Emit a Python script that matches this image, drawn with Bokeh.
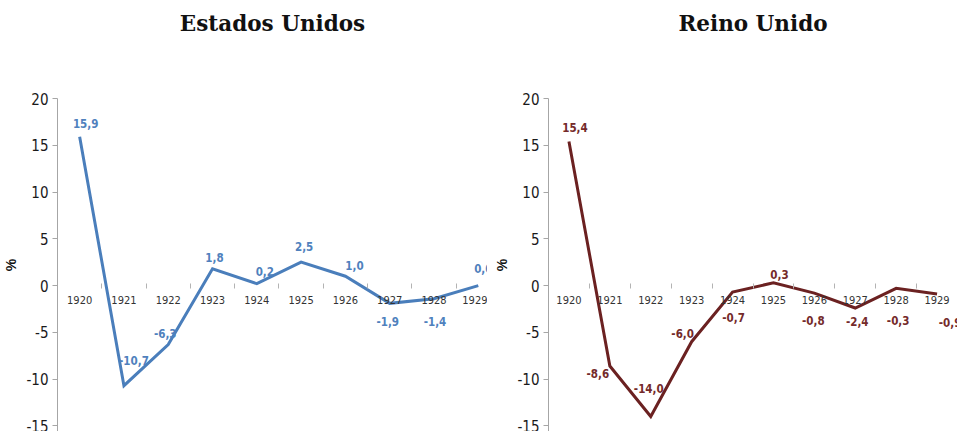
from bokeh.plotting import figure
from bokeh.layouts import row
from bokeh.models import LinearAxis, FixedTicker, ColumnDataSource, Range1d, Title
from bokeh.core.properties import value
from bokeh.embed import file_html
from bokeh.resources import INLINE

# Annual change in consumer prices, 1920-1929 (%)
years = ["1920", "1921", "1922", "1923", "1924", "1925", "1926", "1927", "1928", "1929"]
us_inflation = [15.9, -10.7, -6.3, 1.8, 0.2, 2.5, 1.0, -1.9, -1.4, 0.0]
uk_inflation = [15.4, -8.6, -14.0, -6.0, -0.7, 0.3, -0.8, -2.4, -0.3, -0.9]
y_ticks = [-15, -10, -5, 0, 5, 10, 15, 20]

# Pixel offsets of the value labels relative to their points
us_label_dx = [6, 10, -3, 2, 8, 3, 9, -2, 1, 5]
us_label_dy = [-13, -25, -11, -11, -12, -16, -11, 18, 23, -17]
uk_label_dx = [6, -12, -2, -9, 1, 6, -1, 2, 2, 13]
uk_label_dy = [-14, 7, -28, -8, 25, -8, 27, 13, 32, 29]

NARROW = "DejaVu Sans Condensed, Liberation Sans"
H = 431


def fmt(v):
    return f"{v:.1f}".replace(".", ",")


def make_panel(title, values, line_color, text_color, dx, dy,
               width, left, x_end):
    xs = list(range(len(years)))
    src = ColumnDataSource(dict(x=xs, y=values,
                                label=[fmt(v) for v in values],
                                dx=dx, dy=dy))
    p = figure(width=width, height=H,
               x_range=Range1d(-0.5, x_end), y_range=Range1d(-15.6, 20),
               x_axis_location=None, toolbar_location=None,
               output_backend="svg",
               min_border_left=left, min_border_right=0,
               min_border_top=98, min_border_bottom=0)
    p.outline_line_color = None
    p.grid.visible = False
    p.background_fill_color = "white"
    p.border_fill_color = "white"

    # empty band between the chart title and the plotting area
    p.add_layout(Title(text=" ", text_font_size="1px", standoff=54), "above")

    # chart title
    p.title.text = title
    p.title.align = "center"
    p.title.text_font = "DejaVu Serif"
    p.title.text_font_style = "bold"
    p.title.text_font_size = "21.5px"
    p.title.text_color = "#111111"
    p.title.standoff = 12

    # vertical axis
    ya = p.yaxis[0]
    ya.ticker = FixedTicker(ticks=y_ticks)
    ya.major_label_overrides = {t: str(t) for t in y_ticks}
    ya.axis_line_color = "#a6a6a6"
    ya.major_tick_line_color = "#a6a6a6"
    ya.major_tick_in = 0
    ya.major_tick_out = 5
    ya.minor_tick_line_color = None
    ya.major_label_standoff = 4
    ya.major_label_text_font = NARROW
    ya.major_label_text_font_size = "15px"
    ya.major_label_text_color = "#1a1a1a"
    ya.axis_label = "%"
    ya.axis_label_text_font = "Liberation Sans"
    ya.axis_label_text_font_style = "bold"
    ya.axis_label_text_font_size = "14px"
    ya.axis_label_text_color = "#111111"
    ya.axis_label_standoff = 4

    # category boundary ticks on the zero line
    tick_axis = LinearAxis(
        fixed_location=0,
        ticker=FixedTicker(ticks=[i + 0.5 for i in xs]),
        axis_line_color=None,
        major_tick_line_color="#b3b3b3",
        major_tick_in=2, major_tick_out=3,
        minor_tick_line_color=None,
        major_label_text_color=None,
    )
    # year labels at the category centres
    label_axis = LinearAxis(
        fixed_location=0,
        ticker=FixedTicker(ticks=xs),
        major_label_overrides={i: y for i, y in enumerate(years)},
        axis_line_color=None,
        major_tick_line_color=None,
        major_tick_in=0, major_tick_out=0,
        minor_tick_line_color=None,
        major_label_standoff=10,
        major_label_text_font=NARROW,
        major_label_text_font_size="11px",
        major_label_text_color="#333333",
    )
    p.add_layout(tick_axis, "below")
    p.add_layout(label_axis, "below")

    p.line("x", "y", source=src, line_width=3, line_color=line_color,
           line_join="miter")
    p.text("x", "y", text="label", source=src,
           x_offset="dx", y_offset="dy",
           text_align="center", text_baseline="middle",
           text_font=value(NARROW), text_font_style="bold",
           text_font_size="11.5px", text_color=text_color)
    return p


left_w, left_b = 487, 55
right_w, right_b = 470, 61
left_cat = 44.5

p_us = make_panel("Estados Unidos", us_inflation, "#4a7ebb", "#4f81bd",
                  us_label_dx, us_label_dy, left_w, left_b,
                  -0.5 + (left_w - left_b) / left_cat)
p_uk = make_panel("Reino Unido", uk_inflation, "#6b2121", "#742a2a",
                  uk_label_dx, uk_label_dy, right_w, right_b, 9.5)

layout = row(p_us, p_uk, spacing=0)
open("out.html", "w").write(file_html(layout, INLINE))
